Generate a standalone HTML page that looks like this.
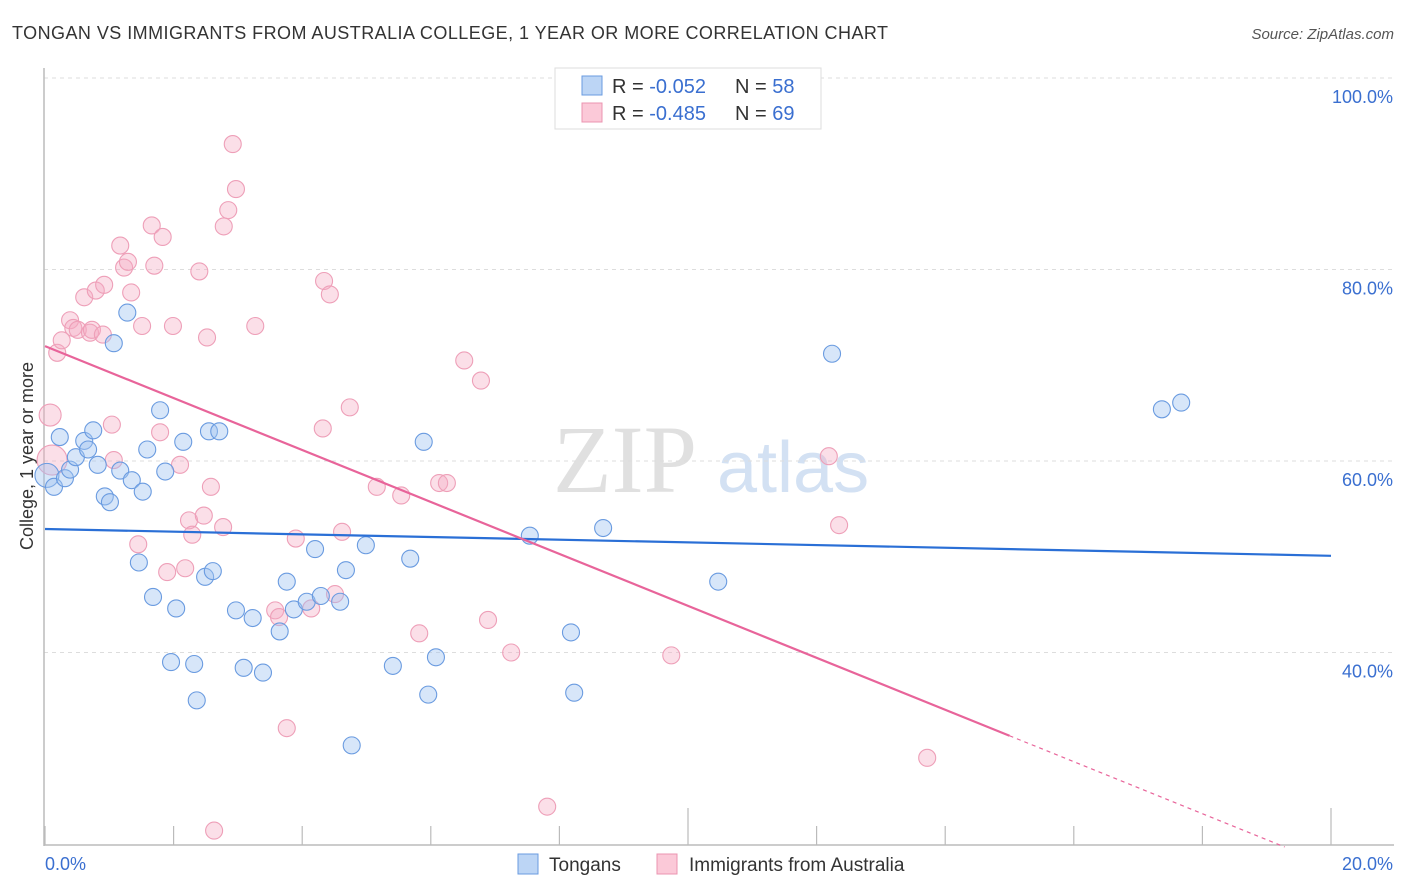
<!DOCTYPE html>
<html><head><meta charset="utf-8"><style>
body{margin:0;background:#fff;font-family:"Liberation Sans",sans-serif}
svg{display:block}
</style></head><body>
<svg id="chart" width="1406" height="892" xmlns="http://www.w3.org/2000/svg">
<text x="12" y="39" font-size="18" letter-spacing="0.45" fill="#333">TONGAN VS IMMIGRANTS FROM AUSTRALIA COLLEGE, 1 YEAR OR MORE CORRELATION CHART</text>
<text x="1394" y="39" font-size="15" fill="#555" font-style="italic" text-anchor="end">Source: ZipAtlas.com</text>
<g>
<text x="553" y="492" font-size="96" font-family="Liberation Serif,serif" fill="#e0e0e0">ZIP</text>
<text x="717" y="492" font-size="72" fill="#d3e1f3">atlas</text>
</g>
<g id="grid"></g>
<g id="ticks"></g>
<line x1="44" y1="68" x2="44" y2="846" stroke="#bbb" stroke-width="1.5"/>
<line x1="44" y1="845" x2="1394" y2="845" stroke="#bbb" stroke-width="1.5"/>
<g id="xticks"></g>
<text x="45" y="870" font-size="18" fill="#3a6fd0">0.0%</text>
<text x="1393" y="870" font-size="18" fill="#3a6fd0" text-anchor="end">20.0%</text>
<text transform="translate(33,456) rotate(-90)" font-size="18" fill="#333" text-anchor="middle">College, 1 year or more</text>
<g id="pts"></g>
<g id="lines"></g>
<g>
<rect x="555" y="68" width="266" height="61" fill="#fff" stroke="#ddd"/>
<rect x="582" y="76" width="20" height="19" fill="#bcd5f5" stroke="#6a9be0"/>
<rect x="582" y="103" width="20" height="19" fill="#fbc9d8" stroke="#eb94b0"/>
<text x="612" y="93" font-size="20" fill="#333">R = <tspan fill="#3a6fd0">-0.052</tspan></text>
<text x="735" y="93" font-size="20" fill="#333">N = <tspan fill="#3a6fd0">58</tspan></text>
<text x="612" y="120" font-size="20" fill="#333">R = <tspan fill="#3a6fd0">-0.485</tspan></text>
<text x="735" y="120" font-size="20" fill="#333">N = <tspan fill="#3a6fd0">69</tspan></text>
</g>
<g>
<rect x="518" y="854" width="20" height="20" fill="#bcd5f5" stroke="#6a9be0"/>
<text x="549" y="871" font-size="19" fill="#333">Tongans</text>
<rect x="657" y="854" width="20" height="20" fill="#fbc9d8" stroke="#eb94b0"/>
<text x="689" y="871" font-size="19" fill="#333">Immigrants from Australia</text>
</g>
</svg>
<script>
const yTicks=[40,60,80,100];
const yTickLabels=["40.0%","60.0%","80.0%","100.0%"];
const xTickValues=[0,2,4,6,8,10,12,14,16,18,20];
const blueX=[0.03,0.14,0.23,0.31,0.39,0.48,0.61,0.67,0.75,0.82,0.93,1.01,1.07,1.17,1.28,1.35,1.52,1.59,1.46,1.68,1.79,1.87,2.04,1.96,2.15,2.32,2.36,2.49,2.55,2.61,2.71,2.97,3.09,3.23,3.39,3.65,3.76,3.87,4.07,4.20,4.29,4.59,4.68,4.77,4.99,5.41,5.68,5.89,5.96,6.08,7.54,8.18,8.23,8.68,10.47,12.24,17.37,17.67];
const blueY=[58.5,57.3,62.5,58.2,59.1,60.4,62.1,61.2,63.2,59.6,56.3,55.7,72.3,59.0,75.5,58.0,56.8,61.2,49.4,45.8,65.3,58.9,44.6,39.0,62.0,38.8,35.0,47.9,63.1,48.5,63.1,44.4,38.4,43.6,37.9,42.2,47.4,44.5,45.3,50.8,45.9,45.3,48.6,30.3,51.2,38.6,49.8,62.0,35.6,39.5,52.2,42.1,35.8,53.0,47.4,71.2,65.4,66.1];
const pinkX=[0.08,0.11,0.19,0.26,0.39,0.44,0.51,0.61,0.70,0.73,0.79,0.92,0.90,1.04,1.07,1.17,1.23,1.29,1.34,1.45,1.51,1.66,1.70,1.79,1.83,1.90,1.99,2.10,2.18,2.24,2.29,2.40,2.47,2.52,2.58,2.63,2.77,2.78,2.85,2.97,2.92,3.27,3.58,3.64,3.76,3.90,4.14,4.32,4.34,4.43,4.51,4.62,4.74,5.16,5.54,5.82,6.13,6.25,6.52,6.78,6.89,7.25,7.81,9.74,12.19,12.35,13.72];
const pinkY=[64.8,60.1,71.3,72.6,74.7,73.9,73.7,77.1,73.4,73.7,77.8,78.4,73.2,63.8,60.1,82.5,80.2,80.8,77.6,51.3,74.1,84.6,80.4,63.0,83.4,48.4,74.1,59.6,48.8,53.8,52.3,79.8,54.3,72.9,57.3,21.4,53.1,84.5,86.2,88.4,93.1,74.1,44.4,43.7,32.1,51.9,44.6,63.4,78.8,77.4,46.1,52.6,65.6,57.3,56.4,42.0,57.7,57.7,70.5,68.4,43.4,40.0,23.9,39.7,60.5,53.3,29.0];
const blueTrend=[52.9,50.1];
const pinkTrend=[72.0,-2.713];
const pinkSolidEnd=15.0, pinkDashEnd=19.28;
const X=v=>45+v/20*1286;
const Y=v=>1035.5-v*9.575;
const NS="http://www.w3.org/2000/svg";
function mk(t,a,p){const e=document.createElementNS(NS,t);for(const k in a)e.setAttribute(k,a[k]);p.appendChild(e);return e;}
const grid=document.getElementById('grid'),ticks=document.getElementById('ticks');
yTicks.forEach((v,i)=>{
 const l=mk('line',{x1:44,x2:1394,y1:Y(v),y2:Y(v),stroke:'#ddd','stroke-dasharray':'4,4'},grid);
 
 
 const t=mk('text',{x:1393,y:Y(v)+25,'font-size':18,fill:'#3a6fd0','text-anchor':'end'},ticks);
 
 
 t.textContent=yTickLabels[i];
});
const xt=document.getElementById('xticks');
xTickValues.forEach(v=>{
 const tall=(v===10||v===20);
 const l=mk('line',{x1:X(v),x2:X(v),y1:tall?808:826,y2:845,stroke:'#bbb','stroke-width':1.2},xt);
 
 
});
const pts=document.getElementById('pts');
pinkX.forEach((v,i)=>{
 const r=i===0?11:(i===1?15:8.5);
 const c=mk('circle',{cx:X(v),cy:Y(pinkY[i]),r:r,fill:'rgba(245,170,195,0.38)',stroke:'#ee9fb8','stroke-width':1.1},pts);
 
 
});
blueX.forEach((v,i)=>{
 const r=i===0?12:8.5;
 const c=mk('circle',{cx:X(v),cy:Y(blueY[i]),r:r,fill:'rgba(160,195,240,0.42)',stroke:'#6a9be0','stroke-width':1.1},pts);
 
 
});
const lines=document.getElementById('lines');
let l=mk('line',{x1:X(0),y1:Y(blueTrend[0]),x2:X(20),y2:Y(blueTrend[1]),stroke:'#2a6fd6','stroke-width':2.2},lines);


const pf=x=>pinkTrend[0]+pinkTrend[1]*x;
l=mk('line',{x1:X(0),y1:Y(pf(0)),x2:X(pinkSolidEnd),y2:Y(pf(pinkSolidEnd)),stroke:'#e8649a','stroke-width':2.2},lines);


l=mk('line',{x1:X(pinkSolidEnd),y1:Y(pf(pinkSolidEnd)),x2:X(pinkDashEnd),y2:Y(pf(pinkDashEnd)),stroke:'#e8649a','stroke-width':1.2,'stroke-dasharray':'4,4'},lines);


</script>
</body></html>
